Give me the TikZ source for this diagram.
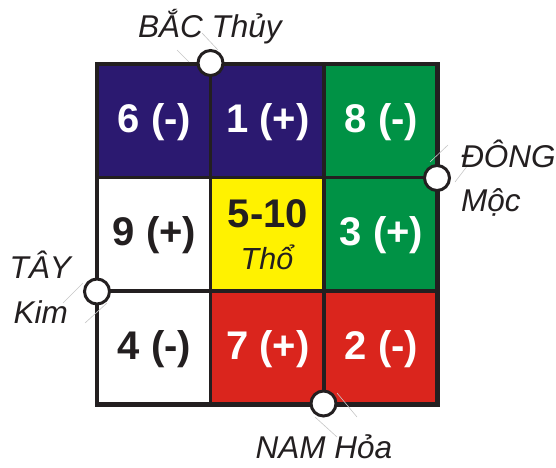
\documentclass[tikz,border=0pt]{standalone}
\usepackage{fontspec}
\setmainfont{Liberation Sans}
\definecolor{navy}{RGB}{43,25,112}
\definecolor{leafgreen}{RGB}{0,146,69}
\definecolor{firered}{RGB}{218,37,29}
\definecolor{earthyellow}{RGB}{255,242,0}
\definecolor{inkdark}{RGB}{35,31,32}
\tikzset{
  cellbox/.style={draw=none, minimum width=113.5pt, minimum height=113.5pt, inner sep=0pt, outer sep=0pt},
  numtxt/.style={anchor=base, font=\fontsize{40}{40}\selectfont\bfseries, inner sep=0pt},
  dirtxt/.style={font=\fontsize{31.5}{31.5}\selectfont\itshape, text=inkdark, inner sep=0pt},
  gridline/.style={draw=inkdark, line width=3.8pt},
  dot/.style={circle, draw=inkdark, fill=white, line width=3pt, minimum size=25pt, inner sep=0pt},
  leader/.style={draw=gray!45, line width=0.6pt}
}
\begin{document}
\begin{tikzpicture}[x=1pt,y=-1pt]
\useasboundingbox (0,0) rectangle (556,467);
% cells
\node[cellbox, fill=navy]        (c11) at (153.75,120.75) {};
\node[cellbox, fill=navy]        (c12) at (267.25,120.75) {};
\node[cellbox, fill=leafgreen]   (c13) at (380.75,120.75) {};
\node[cellbox, fill=white]       (c21) at (153.75,234.25) {};
\node[cellbox, fill=earthyellow] (c22) at (267.25,234.25) {};
\node[cellbox, fill=leafgreen]   (c23) at (380.75,234.25) {};
\node[cellbox, fill=white]       (c31) at (153.75,347.75) {};
\node[cellbox, fill=firered]     (c32) at (267.25,347.75) {};
\node[cellbox, fill=firered]     (c33) at (380.75,347.75) {};
% grid
\draw[gridline] (210.5,64) -- (210.5,404.5);
\draw[gridline] (324,64) -- (324,404.5);
\draw[gridline] (97,177.5) -- (437.5,177.5);
\draw[gridline] (97,291) -- (437.5,291);
\draw[gridline, line width=4.2pt] (97,64) rectangle (437.5,404.5);
% cell texts
\node[numtxt, text=white]   (t11) at (154.5,132) {6 (-)};
\node[numtxt, text=white]   (t12) at (268,132) {1 (+)};
\node[numtxt, text=white]   (t13) at (381.5,132) {8 (-)};
\node[numtxt, text=inkdark] (t21) at (154.5,245.5) {9 (+)};
\node[numtxt, text=inkdark] (t22) at (268,227) {5-10};
\node[anchor=base, font=\fontsize{30.5}{30.5}\selectfont\itshape, text=inkdark, inner sep=0pt] (t22b) at (267,269) {Thổ};
\node[numtxt, text=white]   (t23) at (381.5,245.5) {3 (+)};
\node[numtxt, text=inkdark] (t31) at (154.5,359) {4 (-)};
\node[numtxt, text=white]   (t32) at (268,359) {7 (+)};
\node[numtxt, text=white]   (t33) at (381.5,359) {2 (-)};
% leader lines
\draw[leader] (177,50) -- (189,62);
\draw[leader] (202,33) -- (218,50);
\draw[leader] (448,145) -- (430,162);
\draw[leader] (468,165) -- (455,182);
\draw[leader] (83,283) -- (63,303);
\draw[leader] (107,303) -- (85,323);
\draw[leader] (337,393) -- (357,417);
\draw[leader] (315,417) -- (337,437);
% circles
\node[dot] (north) at (210.5,63) {};
\node[dot] (east)  at (437,178) {};
\node[dot] (west)  at (97,291.5) {};
\node[dot] (south) at (323.5,403.5) {};
% direction labels
\node[dirtxt, anchor=base] (lnorth) at (210,37) {BẮC Thủy};
\node[dirtxt, anchor=base west] (least) at (461,167) {ĐÔNG};
\node[dirtxt, anchor=base west] (least2) at (461,211) {Mộc};
\node[dirtxt, anchor=base east] (lwest) at (71,278) {TÂY};
\node[dirtxt, anchor=base east] (lwest2) at (68,323) {Kim};
\node[dirtxt, anchor=base] (lsouth) at (324,458) {NAM Hỏa};
\end{tikzpicture}
\end{document}
